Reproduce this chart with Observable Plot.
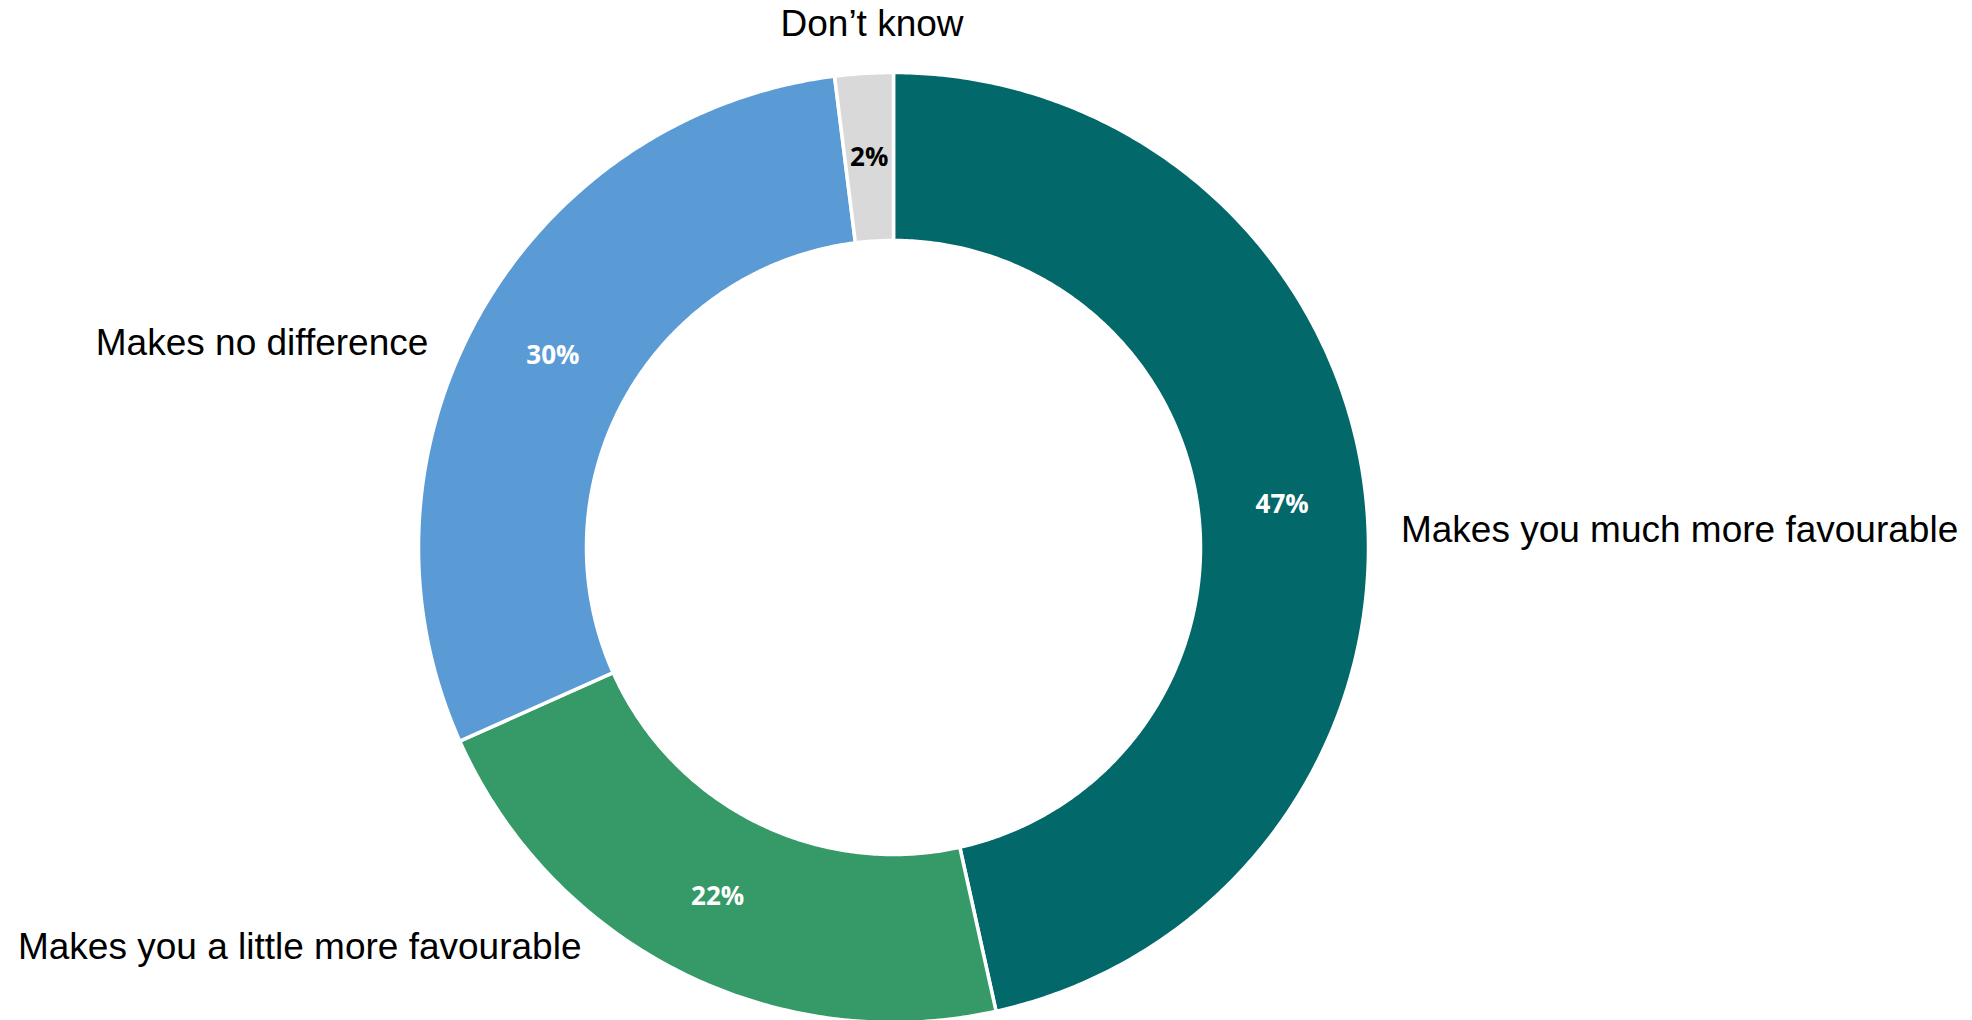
<!DOCTYPE html>
<html>
<head>
<meta charset="utf-8">
<script src="https://cdn.jsdelivr.net/npm/d3@7"></script>
<script src="https://cdn.jsdelivr.net/npm/@observablehq/plot@0.6"></script>
<style>
  html, body { margin: 0; padding: 0; background: #fff; }
  #chart svg { display: block; }
</style>
</head>
<body>
<div id="chart"></div>
<script>
// ---- data ----
const categories = ["Makes you much more favourable", "Makes you a little more favourable", "Makes no difference", "Don’t know"];
const values = [47, 22, 30, 2];
const valueLabels = ["47%", "22%", "30%", "2%"];
const colors = ["#02686A", "#359A68", "#5B9BD5", "#D9D9D9"];
const valueLabelColors = ["#ffffff", "#ffffff", "#ffffff", "#000000"];

// ---- layout ----
const W = 1972, H = 1020;
const cx = 893, cy = 547, R = 475, R0 = 307;
const inner = R0 / R;
const labelRadius = 1.1;
// small pixel nudges for category labels (layout only)
const nudges = [[-12, 39], [-77, -67], [-10, 52], [11, -2]];

const total = d3.sum(values);
let acc = 0;
const slices = categories.map((c, i) => {
  const a0 = acc / total * 2 * Math.PI;
  acc += values[i];
  const a1 = acc / total * 2 * Math.PI;
  return {cat: c, i, a0, a1, mid: (a0 + a1) / 2};
});

// ring polygon points (angle clockwise from 12 o'clock)
const pts = [];
for (const s of slices) {
  const n = Math.max(2, Math.ceil((s.a1 - s.a0) / (Math.PI / 360)));
  for (let k = 0; k <= n; k++) {
    const a = s.a0 + (s.a1 - s.a0) * k / n;
    pts.push({cat: s.cat, x: Math.sin(a), y: -Math.cos(a)});
  }
  for (let k = n; k >= 0; k--) {
    const a = s.a0 + (s.a1 - s.a0) * k / n;
    pts.push({cat: s.cat, x: inner * Math.sin(a), y: -inner * Math.cos(a)});
  }
}

const midR = (1 + inner) / 2;
const valueLabelData = slices.map(s => ({
  x: midR * Math.sin(s.mid), y: -midR * Math.cos(s.mid),
  text: valueLabels[s.i], color: valueLabelColors[s.i]
}));

const catLabelMarks = slices.map(s => {
  const sx = Math.sin(s.mid);
  const anchor = sx > 0.2 ? "start" : sx < -0.2 ? "end" : "middle";
  return Plot.text([{x: labelRadius * sx, y: -labelRadius * Math.cos(s.mid), text: s.cat}], {
    x: "x", y: "y", text: "text",
    textAnchor: anchor, dx: nudges[s.i][0], dy: nudges[s.i][1],
    fontFamily: "Liberation Sans, Arial, sans-serif", fontSize: 37, fill: "#000"
  });
});

const chart = Plot.plot({
  width: W, height: H, margin: 0,
  style: {background: "#fff"},
  x: {domain: [-cx / R, (W - cx) / R], range: [0, W], axis: null},
  y: {domain: [-cy / R, (H - cy) / R], range: [0, H], axis: null},
  color: {domain: categories, range: colors},
  marks: [
    Plot.line(pts, {x: "x", y: "y", z: "cat", fill: "cat", stroke: "#ffffff", strokeWidth: 3.5, curve: "linear-closed"}),
    Plot.text(valueLabelData, {
      x: "x", y: "y", text: "text", fill: d => d.color,
      fontFamily: "'Open Sans', 'Noto Sans', sans-serif", fontWeight: 700, fontSize: 26
    }),
    ...catLabelMarks
  ]
});
document.getElementById("chart").appendChild(chart);
</script>
</body>
</html>
